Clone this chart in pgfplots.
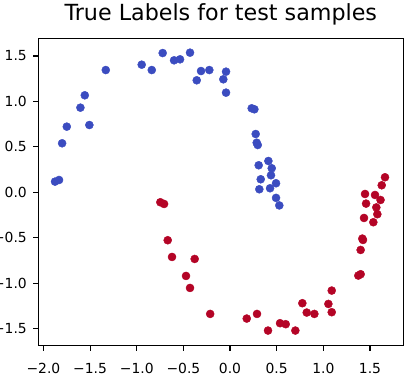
\documentclass[border=0pt]{standalone}
\usepackage{fontspec}
\setmainfont{DejaVu Sans}
\usepackage{pgfplots}
\pgfplotsset{compat=1.18}
\definecolor{cwblue}{RGB}{59,76,192}
\definecolor{cwred}{RGB}{180,4,38}
\begin{document}
\begin{tikzpicture}
\useasboundingbox (0,0) rectangle (297.4pt,269.3pt);
\begin{axis}[
  at={(27.6pt,20.4pt)}, anchor=south west,
  scale only axis, width=262.8pt, height=221.3pt,
  xmin=-2.055, xmax=1.857, ymin=-1.688, ymax=1.694,
  axis line style={line width=0.8pt},
  tick style={line width=0.8pt, black},
  tick align=outside, major tick length=3.5pt,
  xtick={-2,-1.5,-1,-0.5,0,0.5,1,1.5},
  xticklabels={−2.0,−1.5,−1.0,−0.5,0.0,0.5,1.0,1.5},
  ytick={-1.5,-1,-0.5,0,0.5,1,1.5},
  yticklabels={−1.5,−1.0,−0.5,0.0,0.5,1.0,1.5},
  xtick pos=bottom, ytick pos=left,
  ticklabel style={font=\fontsize{10}{12}\selectfont, inner sep=0pt},
  xticklabel style={anchor=north, yshift=-8.8pt},
  yticklabel style={anchor=east, xshift=-4.6pt},
  title={True Labels for test samples},
  title style={at={(0.5,1)}, anchor=base, yshift=6.5pt, inner sep=0pt, font=\fontsize{16}{19}\selectfont},
  clip=false,
]
\addplot[only marks, color=cwblue, mark=*, mark size=2.9pt, mark options={draw=cwblue, fill=cwblue, line width=0.3pt}] coordinates {
(-1.876,0.117) (-1.833,0.135) (-1.80,0.539) (-1.75,0.722) (-1.604,0.931) (-1.557,1.067) (-1.508,0.740)
(-1.332,1.345) (-0.947,1.404) (-0.839,1.345) (-0.722,1.532) (-0.600,1.452) (-0.536,1.463) (-0.429,1.536)
(-0.357,1.232) (-0.311,1.334) (-0.222,1.345) (-0.043,1.327) (-0.072,1.243) (-0.043,1.096) (0.232,0.924)
(0.261,0.913) (0.275,0.641) (0.286,0.545) (0.297,0.520) (0.411,0.344) (0.307,0.297) (0.447,0.264)
(0.439,0.187) (0.329,0.143) (0.493,0.099) (0.314,0.033) (0.429,0.044) (0.493,-0.062) (0.528,-0.145)
};
\addplot[only marks, color=cwred, mark=*, mark size=2.9pt, mark options={draw=cwred, fill=cwred, line width=0.3pt}] coordinates {
(1.661,0.165) (1.626,0.077) (1.447,-0.019) (1.554,-0.030) (1.613,-0.085) (1.458,-0.125) (1.568,-0.167)
(1.579,-0.242) (1.436,-0.283) (1.536,-0.330) (1.418,-0.510) (1.425,-0.525) (1.40,-0.635) (1.375,-0.917)
(1.40,-0.902) (1.09,-1.082) (0.775,-1.221) (1.054,-1.229) (1.09,-1.32) (0.822,-1.324) (0.904,-1.339)
(-0.213,-1.339) (0.179,-1.39) (0.289,-1.339) (0.407,-1.522) (0.536,-1.441) (0.597,-1.452) (0.70,-1.522)
(-0.747,-0.110) (-0.707,-0.129) (-0.668,-0.528) (-0.622,-0.712) (-0.379,-0.734) (-0.472,-0.921) (-0.429,-1.053)
};
\end{axis}
\end{tikzpicture}
\end{document}
